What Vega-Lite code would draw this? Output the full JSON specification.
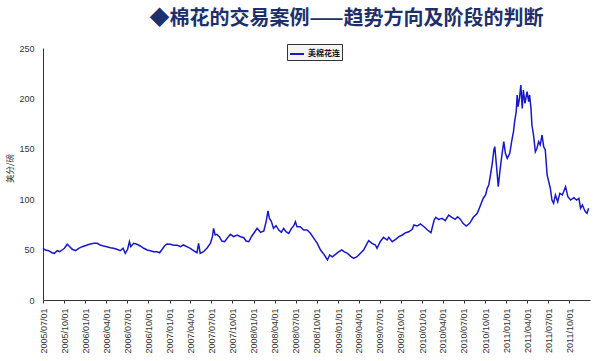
{
  "$schema": "https://vega.github.io/schema/vega-lite/v6.json",
  "width": 547,
  "height": 252,
  "autosize": {"type": "none"},
  "padding": {"left": 43, "top": 48, "right": 10, "bottom": 61},
  "background": "white",
  "title": {
    "text": "◆棉花的交易案例——趋势方向及阶段的判断",
    "font": "Noto Sans CJK SC",
    "fontSize": 20,
    "fontWeight": "bold",
    "color": "#1F2F6B",
    "anchor": "middle",
    "baseline": "bottom",
    "offset": 20,
    "dx": 30,
    "dy": 25
  },
  "data": {
    "values": [
      {"d": "2005-07-01", "v": 51.3}, {"d": "2005-07-11", "v": 49.6}, {"d": "2005-07-25", "v": 48.9},
      {"d": "2005-08-09", "v": 46.9}, {"d": "2005-08-19", "v": 46.3}, {"d": "2005-09-01", "v": 48.9},
      {"d": "2005-09-12", "v": 47.9}, {"d": "2005-09-22", "v": 49.6}, {"d": "2005-10-02", "v": 51.3},
      {"d": "2005-10-14", "v": 55.3}, {"d": "2005-10-25", "v": 52.9}, {"d": "2005-11-05", "v": 50.3},
      {"d": "2005-11-19", "v": 48.9}, {"d": "2005-12-03", "v": 51.3}, {"d": "2005-12-18", "v": 52.9},
      {"d": "2006-01-09", "v": 54.6}, {"d": "2006-01-23", "v": 55.6}, {"d": "2006-02-07", "v": 56.2},
      {"d": "2006-02-21", "v": 56.2}, {"d": "2006-03-06", "v": 54.6}, {"d": "2006-03-20", "v": 53.6},
      {"d": "2006-04-04", "v": 52.9}, {"d": "2006-04-19", "v": 51.9}, {"d": "2006-05-03", "v": 51.3},
      {"d": "2006-05-17", "v": 50.3}, {"d": "2006-06-01", "v": 48.9}, {"d": "2006-06-13", "v": 51.3},
      {"d": "2006-06-23", "v": 46.3}, {"d": "2006-07-03", "v": 50.3}, {"d": "2006-07-11", "v": 57.8},
      {"d": "2006-07-17", "v": 52.9}, {"d": "2006-07-29", "v": 56.2}, {"d": "2006-08-13", "v": 55.3},
      {"d": "2006-08-27", "v": 53.6}, {"d": "2006-09-11", "v": 51.3}, {"d": "2006-09-26", "v": 49.6},
      {"d": "2006-10-10", "v": 48.9}, {"d": "2006-10-24", "v": 47.9}, {"d": "2006-11-08", "v": 47.9},
      {"d": "2006-11-19", "v": 46.9}, {"d": "2006-11-30", "v": 50.3}, {"d": "2006-12-10", "v": 53.6},
      {"d": "2006-12-21", "v": 55.6}, {"d": "2007-01-05", "v": 55.3}, {"d": "2007-01-19", "v": 54.3},
      {"d": "2007-02-04", "v": 54.3}, {"d": "2007-02-18", "v": 52.9}, {"d": "2007-03-02", "v": 54.6},
      {"d": "2007-03-17", "v": 52.9}, {"d": "2007-04-01", "v": 51.3}, {"d": "2007-04-15", "v": 48.9},
      {"d": "2007-04-30", "v": 46.9}, {"d": "2007-05-07", "v": 56.2}, {"d": "2007-05-14", "v": 46.3},
      {"d": "2007-05-28", "v": 47.9}, {"d": "2007-06-12", "v": 51.3}, {"d": "2007-06-27", "v": 56.2},
      {"d": "2007-07-06", "v": 62.8}, {"d": "2007-07-11", "v": 71.1}, {"d": "2007-07-18", "v": 64.5},
      {"d": "2007-07-25", "v": 65.1}, {"d": "2007-08-05", "v": 62.8}, {"d": "2007-08-16", "v": 58.5},
      {"d": "2007-08-28", "v": 57.8}, {"d": "2007-09-08", "v": 61.2}, {"d": "2007-09-22", "v": 65.1},
      {"d": "2007-10-06", "v": 62.8}, {"d": "2007-10-21", "v": 64.5}, {"d": "2007-11-05", "v": 62.8},
      {"d": "2007-11-19", "v": 61.8}, {"d": "2007-11-29", "v": 58.5}, {"d": "2007-12-11", "v": 57.8},
      {"d": "2007-12-22", "v": 62.8}, {"d": "2008-01-06", "v": 67.7}, {"d": "2008-01-16", "v": 71.1},
      {"d": "2008-01-31", "v": 67.1}, {"d": "2008-02-14", "v": 68.4}, {"d": "2008-02-24", "v": 77.7},
      {"d": "2008-03-03", "v": 88.3}, {"d": "2008-03-09", "v": 81.1}, {"d": "2008-03-17", "v": 78.4},
      {"d": "2008-03-27", "v": 71.1}, {"d": "2008-04-07", "v": 73.7}, {"d": "2008-04-19", "v": 69.4},
      {"d": "2008-04-30", "v": 67.1}, {"d": "2008-05-10", "v": 71.1}, {"d": "2008-05-20", "v": 67.7},
      {"d": "2008-06-01", "v": 66.0}, {"d": "2008-06-13", "v": 71.1}, {"d": "2008-06-23", "v": 73.7},
      {"d": "2008-06-30", "v": 77.7}, {"d": "2008-07-07", "v": 72.7}, {"d": "2008-07-21", "v": 72.7},
      {"d": "2008-08-05", "v": 69.4}, {"d": "2008-08-20", "v": 69.4}, {"d": "2008-09-04", "v": 66.0},
      {"d": "2008-09-18", "v": 61.2}, {"d": "2008-10-03", "v": 56.2}, {"d": "2008-10-17", "v": 49.6},
      {"d": "2008-11-01", "v": 45.3}, {"d": "2008-11-16", "v": 39.7}, {"d": "2008-11-26", "v": 44.6},
      {"d": "2008-12-07", "v": 42.9}, {"d": "2008-12-21", "v": 45.3}, {"d": "2009-01-05", "v": 47.9},
      {"d": "2009-01-17", "v": 49.6}, {"d": "2009-01-27", "v": 47.9}, {"d": "2009-02-11", "v": 46.3},
      {"d": "2009-02-25", "v": 43.3}, {"d": "2009-03-10", "v": 41.3}, {"d": "2009-03-24", "v": 42.9},
      {"d": "2009-04-08", "v": 46.3}, {"d": "2009-04-22", "v": 49.6}, {"d": "2009-05-07", "v": 56.2},
      {"d": "2009-05-14", "v": 58.8}, {"d": "2009-05-28", "v": 56.2}, {"d": "2009-06-12", "v": 54.6},
      {"d": "2009-06-19", "v": 51.3}, {"d": "2009-07-03", "v": 57.8}, {"d": "2009-07-17", "v": 62.2},
      {"d": "2009-08-02", "v": 59.5}, {"d": "2009-08-09", "v": 62.2}, {"d": "2009-08-24", "v": 57.8},
      {"d": "2009-09-08", "v": 60.2}, {"d": "2009-09-22", "v": 62.8}, {"d": "2009-10-07", "v": 64.5},
      {"d": "2009-10-21", "v": 66.8}, {"d": "2009-11-04", "v": 67.7}, {"d": "2009-11-19", "v": 70.1},
      {"d": "2009-11-26", "v": 74.4}, {"d": "2009-12-10", "v": 73.4}, {"d": "2009-12-24", "v": 75.4},
      {"d": "2010-01-09", "v": 72.7}, {"d": "2010-01-24", "v": 69.4}, {"d": "2010-02-08", "v": 66.8},
      {"d": "2010-02-22", "v": 79.4}, {"d": "2010-03-01", "v": 82.0}, {"d": "2010-03-13", "v": 80.0},
      {"d": "2010-03-28", "v": 81.0}, {"d": "2010-04-11", "v": 78.7}, {"d": "2010-04-26", "v": 84.3},
      {"d": "2010-05-10", "v": 82.0}, {"d": "2010-05-24", "v": 80.0}, {"d": "2010-06-04", "v": 82.6},
      {"d": "2010-06-16", "v": 80.0}, {"d": "2010-06-27", "v": 76.1}, {"d": "2010-07-11", "v": 73.4},
      {"d": "2010-07-26", "v": 76.1}, {"d": "2010-08-10", "v": 81.8}, {"d": "2010-08-28", "v": 86.0},
      {"d": "2010-09-11", "v": 94.0}, {"d": "2010-09-23", "v": 101.0}, {"d": "2010-10-03", "v": 104.2},
      {"d": "2010-10-10", "v": 110.8}, {"d": "2010-10-17", "v": 114.1}, {"d": "2010-10-24", "v": 124.0},
      {"d": "2010-11-01", "v": 135.6}, {"d": "2010-11-08", "v": 148.8}, {"d": "2010-11-12", "v": 152.1},
      {"d": "2010-11-19", "v": 133.9}, {"d": "2010-11-27", "v": 112.4}, {"d": "2010-12-04", "v": 127.3},
      {"d": "2010-12-11", "v": 140.6}, {"d": "2010-12-21", "v": 157.1}, {"d": "2010-12-28", "v": 145.5},
      {"d": "2011-01-05", "v": 140.6}, {"d": "2011-01-16", "v": 145.5}, {"d": "2011-01-24", "v": 157.1},
      {"d": "2011-02-01", "v": 167.0}, {"d": "2011-02-06", "v": 176.9}, {"d": "2011-02-13", "v": 186.9},
      {"d": "2011-02-17", "v": 203.4}, {"d": "2011-02-21", "v": 191.8}, {"d": "2011-02-27", "v": 200.1},
      {"d": "2011-03-05", "v": 213.3}, {"d": "2011-03-11", "v": 190.1}, {"d": "2011-03-16", "v": 208.3},
      {"d": "2011-03-23", "v": 195.1}, {"d": "2011-04-01", "v": 206.7}, {"d": "2011-04-08", "v": 196.8},
      {"d": "2011-04-12", "v": 203.4}, {"d": "2011-04-18", "v": 190.1}, {"d": "2011-04-22", "v": 173.6},
      {"d": "2011-04-29", "v": 163.7}, {"d": "2011-05-07", "v": 147.1}, {"d": "2011-05-14", "v": 150.5},
      {"d": "2011-05-21", "v": 157.1}, {"d": "2011-05-28", "v": 153.8}, {"d": "2011-06-05", "v": 163.7},
      {"d": "2011-06-12", "v": 152.1}, {"d": "2011-06-19", "v": 148.8}, {"d": "2011-06-27", "v": 124.0},
      {"d": "2011-07-04", "v": 117.4}, {"d": "2011-07-11", "v": 110.8}, {"d": "2011-07-18", "v": 99.2},
      {"d": "2011-07-25", "v": 95.9}, {"d": "2011-08-02", "v": 104.2}, {"d": "2011-08-12", "v": 97.5},
      {"d": "2011-08-21", "v": 105.8}, {"d": "2011-09-01", "v": 104.2}, {"d": "2011-09-15", "v": 112.4},
      {"d": "2011-09-25", "v": 102.5}, {"d": "2011-10-07", "v": 99.2}, {"d": "2011-10-21", "v": 101.5},
      {"d": "2011-11-02", "v": 99.2}, {"d": "2011-11-12", "v": 100.9}, {"d": "2011-11-19", "v": 91.0},
      {"d": "2011-11-27", "v": 94.2}, {"d": "2011-12-03", "v": 91.0}, {"d": "2011-12-10", "v": 87.6},
      {"d": "2011-12-17", "v": 86.0}, {"d": "2011-12-24", "v": 91.0}
    ]
  },
  "mark": {"type": "line", "strokeWidth": 1.5, "interpolate": "linear"},
  "encoding": {
    "x": {
      "field": "d",
      "type": "temporal",
      "scale": {"domain": [{"year": 2005, "month": 7, "date": 1}, {"year": 2011, "month": 12, "date": 30}]},
      "axis": {
        "title": null,
        "format": "%Y/%m/%d",
        "tickCount": {"interval": "month", "step": 3},
        "labelAngle": -90,
        "labelFont": "Liberation Sans",
        "labelFontSize": 9,
        "labelColor": "#333333",
        "labelPadding": 5,
        "labelOverlap": false,
        "labelFlush": false,
        "tickSize": 3,
        "tickColor": "#333333",
        "domainColor": "#333333",
        "grid": false
      }
    },
    "y": {
      "field": "v",
      "type": "quantitative",
      "scale": {"domain": [0, 250], "nice": false},
      "axis": {
        "title": "美分/磅",
        "titleFont": "Noto Sans CJK SC",
        "titleFontSize": 8.5,
        "titleFontWeight": "normal",
        "titleColor": "#333333",
        "titleX": -34,
        "titleY": 120,
        "titleAlign": "center",
        "titleBaseline": "middle",
        "values": [0, 50, 100, 150, 200, 250],
        "labelFont": "Liberation Sans",
        "labelFontSize": 9,
        "labelColor": "#333333",
        "labelPadding": 9,
        "ticks": false,
        "domainColor": "#333333",
        "grid": false
      }
    },
    "color": {
      "datum": "美棉花连",
      "type": "nominal",
      "scale": {"range": ["#1818C8"]},
      "legend": {
        "title": null,
        "orient": "none",
        "legendX": 244,
        "legendY": -4,
        "symbolType": "stroke",
        "symbolSize": 196,
        "symbolStrokeWidth": 2,
        "labelFont": "Noto Sans CJK SC",
        "labelFontSize": 8,
        "labelFontWeight": "bold",
        "labelColor": "#111111",
        "labelOffset": 3,
        "strokeColor": "#333333",
        "fillColor": "#F4F4F4",
        "padding": 2
      }
    }
  },
  "config": {"view": {"stroke": null}}
}
